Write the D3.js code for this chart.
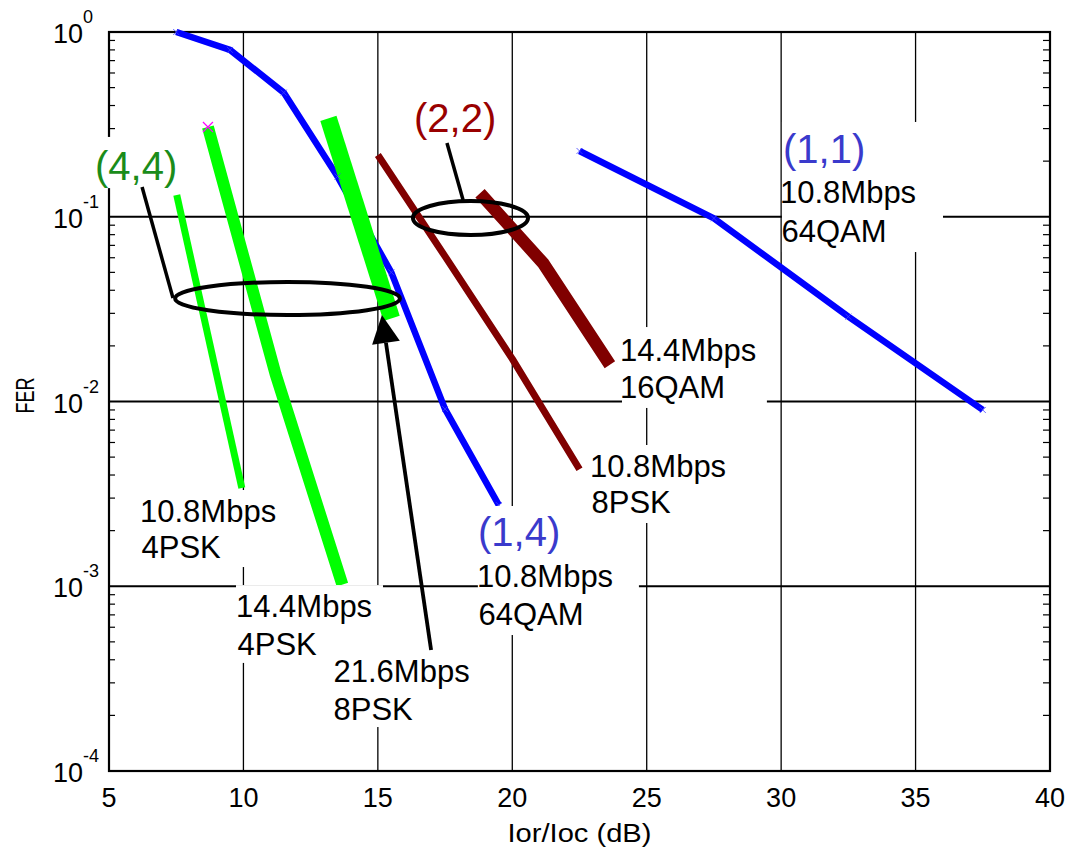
<!DOCTYPE html>
<html><head><meta charset="utf-8">
<script src="https://cdn.jsdelivr.net/npm/d3@7"></script>
<style>
body{margin:0;background:#fff}
text{font-family:"Liberation Sans",Arial,Helvetica,sans-serif}
</style>
</head><body>
<svg id="c" width="1080" height="849"></svg>
<script>
// ---------- data ----------
const xTicks = [5, 10, 15, 20, 25, 30, 35, 40];
const yTicks = [1, 0.1, 0.01, 0.001, 0.0001];
const yTickExp = ["0", "-1", "-2", "-3", "-4"];

// (1,4) 10.8Mbps 64QAM
const s14_x = [7.5, 9.5, 11.5, 13.5, 15.5, 17.5, 19.5];
const s14_y = [1.0, 0.80, 0.47, 0.165, 0.050, 0.0091, 0.00275];
// (1,1) 10.8Mbps 64QAM
const s11_x = [22.5, 27.5, 32.5, 37.5];
const s11_y = [0.227, 0.098, 0.0288, 0.009];
// (2,2) 10.8Mbps 8PSK
const s22a_x = [15.0, 17.5, 20.0, 22.5];
const s22a_y = [0.216, 0.061, 0.017, 0.0043];
// (2,2) 14.4Mbps 16QAM
const s22b_x = [18.8, 21.15, 23.63];
const s22b_y = [0.134, 0.056, 0.0158];
// (4,4) 10.8Mbps 4PSK
const s44a_x = [7.52, 9.94];
const s44a_y = [0.131, 0.0034];
// (4,4) 14.4Mbps 4PSK
const s44b_x = [8.68, 11.2, 13.68];
const s44b_y = [0.306, 0.014, 0.00102];
// (4,4) 21.6Mbps 8PSK
const s44c_x = [13.16, 15.51];
const s44c_y = [0.341, 0.0282];

// annotation texts: text, dB, log10(FER), kind
const labelText = ["(4,4)", "(2,2)", "(1,1)", "10.8Mbps", "64QAM", "14.4Mbps", "16QAM",
  "10.8Mbps", "8PSK", "(1,4)", "10.8Mbps", "64QAM", "10.8Mbps", "4PSK",
  "14.4Mbps", "4PSK", "21.6Mbps", "8PSK"];
const labelX = [4.554, 16.418, 30.143, 30.069, 30.069, 24.118, 24.118,
  23.002, 23.002, 18.799, 18.799, 18.799, 6.265, 6.265, 9.835, 9.835, 13.406, 13.406];
const labelE = [-0.801, -0.541, -0.709, -0.9256, -1.1367, -1.781, -1.981,
  -2.4087, -2.6035, -2.782, -3.004, -3.2097, -2.652, -2.847, -3.166, -3.372, -3.518, -3.724];
const labelKind = ["g44", "r22", "b", "t", "t", "t", "t", "t", "t", "b", "t", "t", "t", "t", "t", "t", "t", "t"];

// white label backgrounds: dB from/to, log10 FER from/to
const boxX0 = [4.37, 16.27, 30.03, 24.08, 22.816, 18.72, 6.079, 9.724, 13.22];
const boxX1 = [7.86, 19.77, 36.02, 29.47, 28.283, 24.71, 11.732, 15.191, 18.80];
const boxE0 = [-0.568, -0.346, -0.487, -1.597, -2.2355, -2.5656, -2.479, -2.9938, -3.372];
const boxE1 = [-0.845, -0.595, -1.191, -2.035, -2.6576, -3.264, -2.896, -3.415, -3.762];

// ellipses: centre dB, centre log10, half width dB, half height decades
const ellCx = [11.64, 18.445];
const ellCe = [-1.4425, -1.0068];
const ellRx = [4.18, 2.14];
const ellRe = [0.0893, 0.092];

// leader lines (dB, log10) from -> to
const leadX0 = [6.23, 17.57];
const leadE0 = [-0.839, -0.601];
const leadX1 = [7.38, 18.17];
const leadE1 = [-1.44, -0.909];

// arrow: tail -> tip
const arrowX = [16.98, 15.15];
const arrowE = [-3.345, -1.532];

// ---------- chart ----------
const svg = d3.select("#c");
const L = 109, R = 1050, T = 32, B = 771;
const X = d3.scaleLinear().domain([5, 40]).range([L, R]);
const Y = d3.scaleLog().domain([1e-4, 1]).range([B, T]);
const YE = e => Y(Math.pow(10, e));

// grid
const g = svg.append("g");
xTicks.slice(1, -1).forEach(v => {
  g.append("line").attr("x1", X(v)).attr("x2", X(v)).attr("y1", T).attr("y2", B)
    .attr("stroke", "#000").attr("stroke-width", 1.3);
});
yTicks.slice(1, -1).forEach(v => {
  g.append("line").attr("x1", L).attr("x2", R).attr("y1", Y(v)).attr("y2", Y(v))
    .attr("stroke", "#000").attr("stroke-width", 2);
});
// minor ticks
for (let d = -4; d < 0; d++) {
  for (let k = 2; k <= 9; k++) {
    const v = k * Math.pow(10, d);
    g.append("line").attr("x1", L).attr("x2", L + 6).attr("y1", Y(v)).attr("y2", Y(v))
      .attr("stroke", "#000").attr("stroke-width", 1.2);
    g.append("line").attr("x1", R).attr("x2", R - 7).attr("y1", Y(v)).attr("y2", Y(v))
      .attr("stroke", "#000").attr("stroke-width", 1.2);
  }
}
// frame
g.append("rect").attr("x", L).attr("y", T).attr("width", R - L).attr("height", B - T)
  .attr("fill", "none").attr("stroke", "#000").attr("stroke-width", 2.2);

// tick labels
xTicks.forEach(v => {
  svg.append("text").attr("x", X(v)).attr("y", 807).attr("text-anchor", "middle")
    .attr("font-size", 27).text(v);
});
yTicks.forEach((v, i) => {
  svg.append("text").attr("x", 83).attr("y", Y(v) + 11).attr("text-anchor", "end")
    .attr("font-size", 27).text("10");
  svg.append("text").attr("x", 83).attr("y", Y(v) - 9).attr("text-anchor", "start")
    .attr("font-size", 18).text(yTickExp[i]);
});
svg.append("text").attr("x", (L + R) / 2).attr("y", 842).attr("text-anchor", "middle")
  .attr("font-size", 25).attr("textLength", 144).attr("lengthAdjust", "spacingAndGlyphs")
  .text("Ior/Ioc (dB)");
svg.append("text").attr("transform", `translate(34,${(T + B) / 2 - 6}) rotate(-90) scale(0.72,1)`)
  .attr("text-anchor", "middle").attr("font-size", 25).text("FER");

// series
const line = d3.line().x(d => X(d[0])).y(d => Y(d[1]));
const zip = (a, b) => a.map((v, i) => [v, b[i]]);
const series = [
  {d: zip(s14_x, s14_y), c: "#0000ff", w: 6.5},
  {d: zip(s11_x, s11_y), c: "#0000ff", w: 6.5},
  {d: zip(s22a_x, s22a_y), c: "#800000", w: 7},
  {d: zip(s22b_x, s22b_y), c: "#800000", w: 12.5},
  {d: zip(s44a_x, s44a_y), c: "#00ff00", w: 7},
  {d: zip(s44b_x, s44b_y), c: "#00ff00", w: 12},
  {d: zip(s44c_x, s44c_y), c: "#00ff00", w: 17}
];
series.forEach(s => {
  svg.append("path").attr("d", line(s.d)).attr("fill", "none").attr("stroke", s.c)
    .attr("stroke-width", s.w).attr("stroke-linejoin", "round").attr("stroke-linecap", "butt");
});
// small x markers
function xMark(px, py, c, r, w) {
  svg.append("path").attr("d", `M${px - r},${py - r}L${px + r},${py + r}M${px - r},${py + r}L${px + r},${py - r}`)
    .attr("stroke", c).attr("stroke-width", w).attr("fill", "none");
}
zip(s14_x, s14_y).concat(zip(s11_x, s11_y)).forEach(p => xMark(X(p[0]), Y(p[1]), "#4040ff", 3, 0.8));
xMark(X(s44b_x[0]), Y(s44b_y[0]), "#ff00ff", 5, 1.2);

// white boxes
boxX0.forEach((v, i) => {
  svg.append("rect").attr("x", X(v)).attr("y", YE(boxE0[i]))
    .attr("width", X(boxX1[i]) - X(v)).attr("height", YE(boxE1[i]) - YE(boxE0[i]))
    .attr("fill", "#fff");
});

// ellipses
ellCx.forEach((v, i) => {
  svg.append("ellipse").attr("cx", X(v)).attr("cy", YE(ellCe[i]))
    .attr("rx", X(v + ellRx[i]) - X(v)).attr("ry", YE(ellCe[i] - ellRe[i]) - YE(ellCe[i]))
    .attr("fill", "none").attr("stroke", "#000").attr("stroke-width", 4);
});
// leaders
leadX0.forEach((v, i) => {
  svg.append("line").attr("x1", X(v)).attr("y1", YE(leadE0[i]))
    .attr("x2", X(leadX1[i])).attr("y2", YE(leadE1[i]))
    .attr("stroke", "#000").attr("stroke-width", 3.5);
});
// arrow
{
  const x0 = X(arrowX[0]), y0 = YE(arrowE[0]), x1 = X(arrowX[1]), y1 = YE(arrowE[1]);
  const len = Math.hypot(x1 - x0, y1 - y0), ux = (x1 - x0) / len, uy = (y1 - y0) / len;
  const hl = 28, hw = 14;
  const bx = x1 - ux * hl, by = y1 - uy * hl;
  svg.append("line").attr("x1", x0).attr("y1", y0).attr("x2", bx).attr("y2", by)
    .attr("stroke", "#000").attr("stroke-width", 3.8);
  svg.append("path").attr("d", `M${x1},${y1}L${bx - uy * hw},${by + ux * hw}L${bx + uy * hw},${by - ux * hw}Z`)
    .attr("fill", "#000");
}

// labels
const kindStyle = {
  g44: {c: "#1a8c1a", s: 40},
  r22: {c: "#990000", s: 40},
  b: {c: "#3a3acc", s: 40},
  t: {c: "#000", s: 31}
};
labelText.forEach((t, i) => {
  const k = labelKind[i] === "b" && t[0] !== "(" ? kindStyle.t : kindStyle[labelKind[i]];
  const dx = t[0] === "1" ? -3 : (t[0] === "(" ? -2 : -1.5);
  svg.append("text").attr("x", X(labelX[i]) + dx).attr("y", YE(labelE[i]))
    .attr("fill", k.c).attr("font-size", k.s).text(t);
});
</script>
</body></html>
